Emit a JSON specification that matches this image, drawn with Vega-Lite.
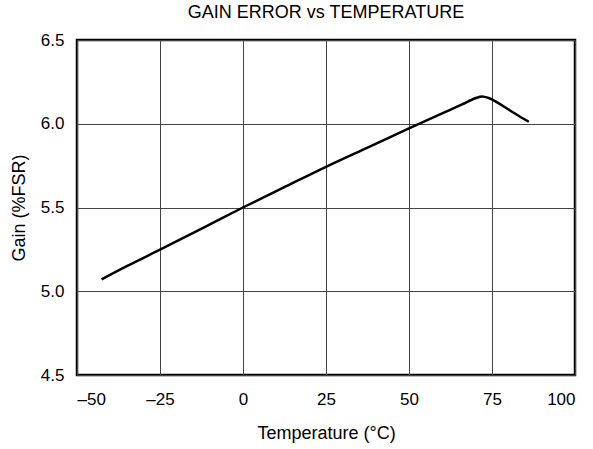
{
  "$schema": "https://vega.github.io/schema/vega-lite/v6.json",
  "width": 498,
  "height": 335,
  "autosize": {"type": "none"},
  "padding": {"left": 77, "top": 40, "right": 18, "bottom": 74},
  "title": {"text": "GAIN ERROR vs TEMPERATURE", "font": "Liberation Sans", "fontSize": 18, "fontWeight": "normal", "color": "black", "offset": 9, "anchor": "middle"},
  "config": {
    "view": {"stroke": "black", "strokeWidth": 2.5},
    "axis": {"labelFont": "Liberation Sans", "titleFont": "Liberation Sans", "labelFontSize": 17, "titleFontSize": 18, "titleFontWeight": "normal", "labelColor": "black", "titleColor": "black", "domain": false, "ticks": false, "gridColor": "#444444", "gridWidth": 1, "gridOpacity": 1}
  },
  "data": {"values": [
    {"t": -42.6, "g": 5.071},
    {"t": -35, "g": 5.15},
    {"t": -25, "g": 5.248},
    {"t": -12, "g": 5.378},
    {"t": 0, "g": 5.5},
    {"t": 12, "g": 5.617},
    {"t": 25, "g": 5.743},
    {"t": 38, "g": 5.862},
    {"t": 50, "g": 5.972},
    {"t": 60, "g": 6.062},
    {"t": 66, "g": 6.115},
    {"t": 70, "g": 6.152},
    {"t": 72, "g": 6.163},
    {"t": 74, "g": 6.154},
    {"t": 78, "g": 6.11},
    {"t": 82, "g": 6.06},
    {"t": 86.1, "g": 6.012}
  ]},
  "mark": {"type": "line", "color": "black", "strokeWidth": 2.5, "interpolate": "monotone"},
  "encoding": {
    "x": {"field": "t", "type": "quantitative", "scale": {"domain": [-50, 100], "nice": false}, "axis": {"values": [-50, -25, 0, 25, 50, 75, 100], "title": "Temperature (°C)", "labelPadding": 16, "titlePadding": 17, "labelExpr": "datum.value < 0 ? '–' + abs(datum.value) : '' + datum.value"}},
    "y": {"field": "g", "type": "quantitative", "scale": {"domain": [4.5, 6.5], "nice": false, "zero": false}, "axis": {"values": [4.5, 5.0, 5.5, 6.0, 6.5], "format": ".1f", "title": "Gain (%FSR)", "labelPadding": 13, "titlePadding": 12}}
  }
}
